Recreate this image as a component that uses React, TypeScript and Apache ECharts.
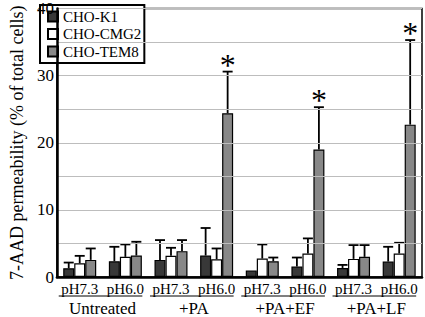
import React, { useEffect, useRef } from 'react';
import * as echarts from 'echarts';

const groups = ['Untreated', '+PA', '+PA+EF', '+PA+LF'];
const phLevels = ['pH7.3', 'pH6.0'];
const categories = groups.flatMap((g) => phLevels.map((p) => `${g}|${p}`));

const seriesNames = ['CHO-K1', 'CHO-CMG2', 'CHO-TEM8'];
const k1Values = [1.3, 2.35, 2.55, 3.2, 0.95, 1.55, 1.35, 2.3];
const k1Err = [0.85, 2.15, 2.95, 4.1, 0, 1.35, 0.45, 2.2];
const cmg2Values = [2.05, 3.0, 3.15, 2.65, 2.75, 3.5, 2.7, 3.5];
const cmg2Err = [1.1, 1.85, 1.2, 1.6, 2.1, 2.25, 2.05, 1.6];
const tem8Values = [2.55, 3.2, 3.85, 24.4, 2.35, 19.0, 3.0, 22.7];
const tem8Err = [1.7, 2.05, 1.65, 6.2, 0.55, 6.3, 1.75, 12.6];
const tem8Significant = [false, false, false, true, false, true, false, true];

const yTicks = [0, 10, 20, 30, 40];

const FONT = 'Liberation Serif';
const BAR_W = 11;
const colors = ['#383838', '#ffffff', '#888888'];

export default function App() {
  const ref = useRef<HTMLDivElement>(null);

  useEffect(() => {
    if (!ref.current) return;
    const chart = echarts.init(ref.current, undefined, { renderer: 'svg' });

    const values = [k1Values, cmg2Values, tem8Values];
    const errs = [k1Err, cmg2Err, tem8Err];

    const makeErr = (si: number) => ({
      type: 'custom',
      xAxisIndex: 0,
      yAxisIndex: 0,
      z: 5,
      silent: true,
      data: values[si].map((v, i) => [i, v, errs[si][i], si === 2 && tem8Significant[i] ? 1 : 0]),
      renderItem: (params: any, api: any) => {
        const idx = api.value(0);
        const v = api.value(1);
        const e = api.value(2);
        const sig = api.value(3);
        const cx = api.coord([idx, 0])[0] + (si - 1) * BAR_W;
        const yb = api.coord([idx, v])[1];
        const yt = api.coord([idx, v + e])[1];
        const children: any[] = [];
        if (e > 0) {
          children.push({
            type: 'line',
            shape: { x1: cx, y1: yb, x2: cx, y2: yt },
            style: { stroke: '#000', lineWidth: 1.8 },
          });
          children.push({
            type: 'line',
            shape: { x1: cx - 5, y1: yt, x2: cx + 5, y2: yt },
            style: { stroke: '#000', lineWidth: 1.8 },
          });
        }
        if (sig) {
          children.push({
            type: 'text',
            style: {
              text: '*',
              x: cx,
              y: yt + 9,
              align: 'center',
              verticalAlign: 'bottom',
              fontFamily: FONT,
              fontSize: 32,
              fill: '#000',
            },
          });
        }
        return { type: 'group', children };
      },
    });

    const option: any = {
      animation: false,
      grid: {
        left: 40,
        right: 3,
        top: 5,
        bottom: 39,
        show: true,
        borderColor: '#000',
        borderWidth: 1.5,
        backgroundColor: 'transparent',
      },
      legend: {
        data: seriesNames,
        orient: 'vertical',
        left: 40,
        top: 5,
        padding: [4, 3, 4, 7],
        itemGap: 2.5,
        itemWidth: 10,
        itemHeight: 10,
        backgroundColor: '#fff',
        borderColor: '#000',
        borderWidth: 2,
        textStyle: { fontFamily: FONT, fontSize: 15, color: '#000' },
        icon: 'rect',
      },
      xAxis: [
        {
          type: 'category',
          data: categories,
          gridIndex: 0,
          axisLine: { lineStyle: { color: '#000', width: 2.5 } },
          axisTick: { show: false },
          axisLabel: {
            formatter: (v: string) => v.split('|')[1],
            fontFamily: FONT,
            fontSize: 15,
            color: '#000',
            margin: 4,
            interval: 0,
          },
          splitLine: { show: false },
          z: 10,
        },
        {
          type: 'category',
          data: groups,
          gridIndex: 0,
          position: 'bottom',
          offset: 20,
          axisLine: { show: false },
          axisTick: { show: false },
          axisLabel: {
            fontFamily: FONT,
            fontSize: 17,
            color: '#000',
            margin: 3,
            interval: 0,
          },
          splitLine: { show: false },
        },
      ],
      yAxis: {
        type: 'value',
        min: 0,
        max: 40,
        interval: 5,
        name: '7-AAD permeability (% of total cells)',
        nameLocation: 'middle',
        nameGap: 24,
        nameTextStyle: { fontFamily: FONT, fontSize: 18, color: '#000' },
        axisLine: { show: true, lineStyle: { color: '#000', width: 2.5 } },
        axisTick: { show: false },
        axisLabel: {
          formatter: (v: number) => (yTicks.includes(v) ? String(v) : ''),
          fontFamily: FONT,
          fontSize: 17,
          color: '#000',
          margin: 3,
        },
        splitLine: { show: true, lineStyle: { color: '#bdbdbd', width: 1.2 } },
        z: 10,
      },
      series: [
        ...seriesNames.map((name, si) => ({
          name,
          type: 'bar',
          xAxisIndex: 0,
          barWidth: BAR_W,
          barGap: '0%',
          data: values[si],
          itemStyle: { color: colors[si], borderColor: '#000', borderWidth: 1.2 },
        })),
        makeErr(0),
        makeErr(1),
        makeErr(2),
      ],
    };

    chart.setOption(option);

    const underlineY = 296;
    const graphics = groups.map((g, gi) => {
      const xa = chart.convertToPixel({ xAxisIndex: 0 }, categories[gi * 2]) as number;
      const xb = chart.convertToPixel({ xAxisIndex: 0 }, categories[gi * 2 + 1]) as number;
      return {
        type: 'line',
        shape: { x1: xa - 21, y1: underlineY, x2: xb + 17, y2: underlineY },
        style: { stroke: '#000', lineWidth: 1 },
        silent: true,
      };
    });
    chart.setOption({ graphic: graphics });

    return () => chart.dispose();
  }, []);

  return (
    <div
      ref={ref}
      style={{ position: 'fixed', left: 0, top: 0, width: 425, height: 317, background: '#fff' }}
    />
  );
}
